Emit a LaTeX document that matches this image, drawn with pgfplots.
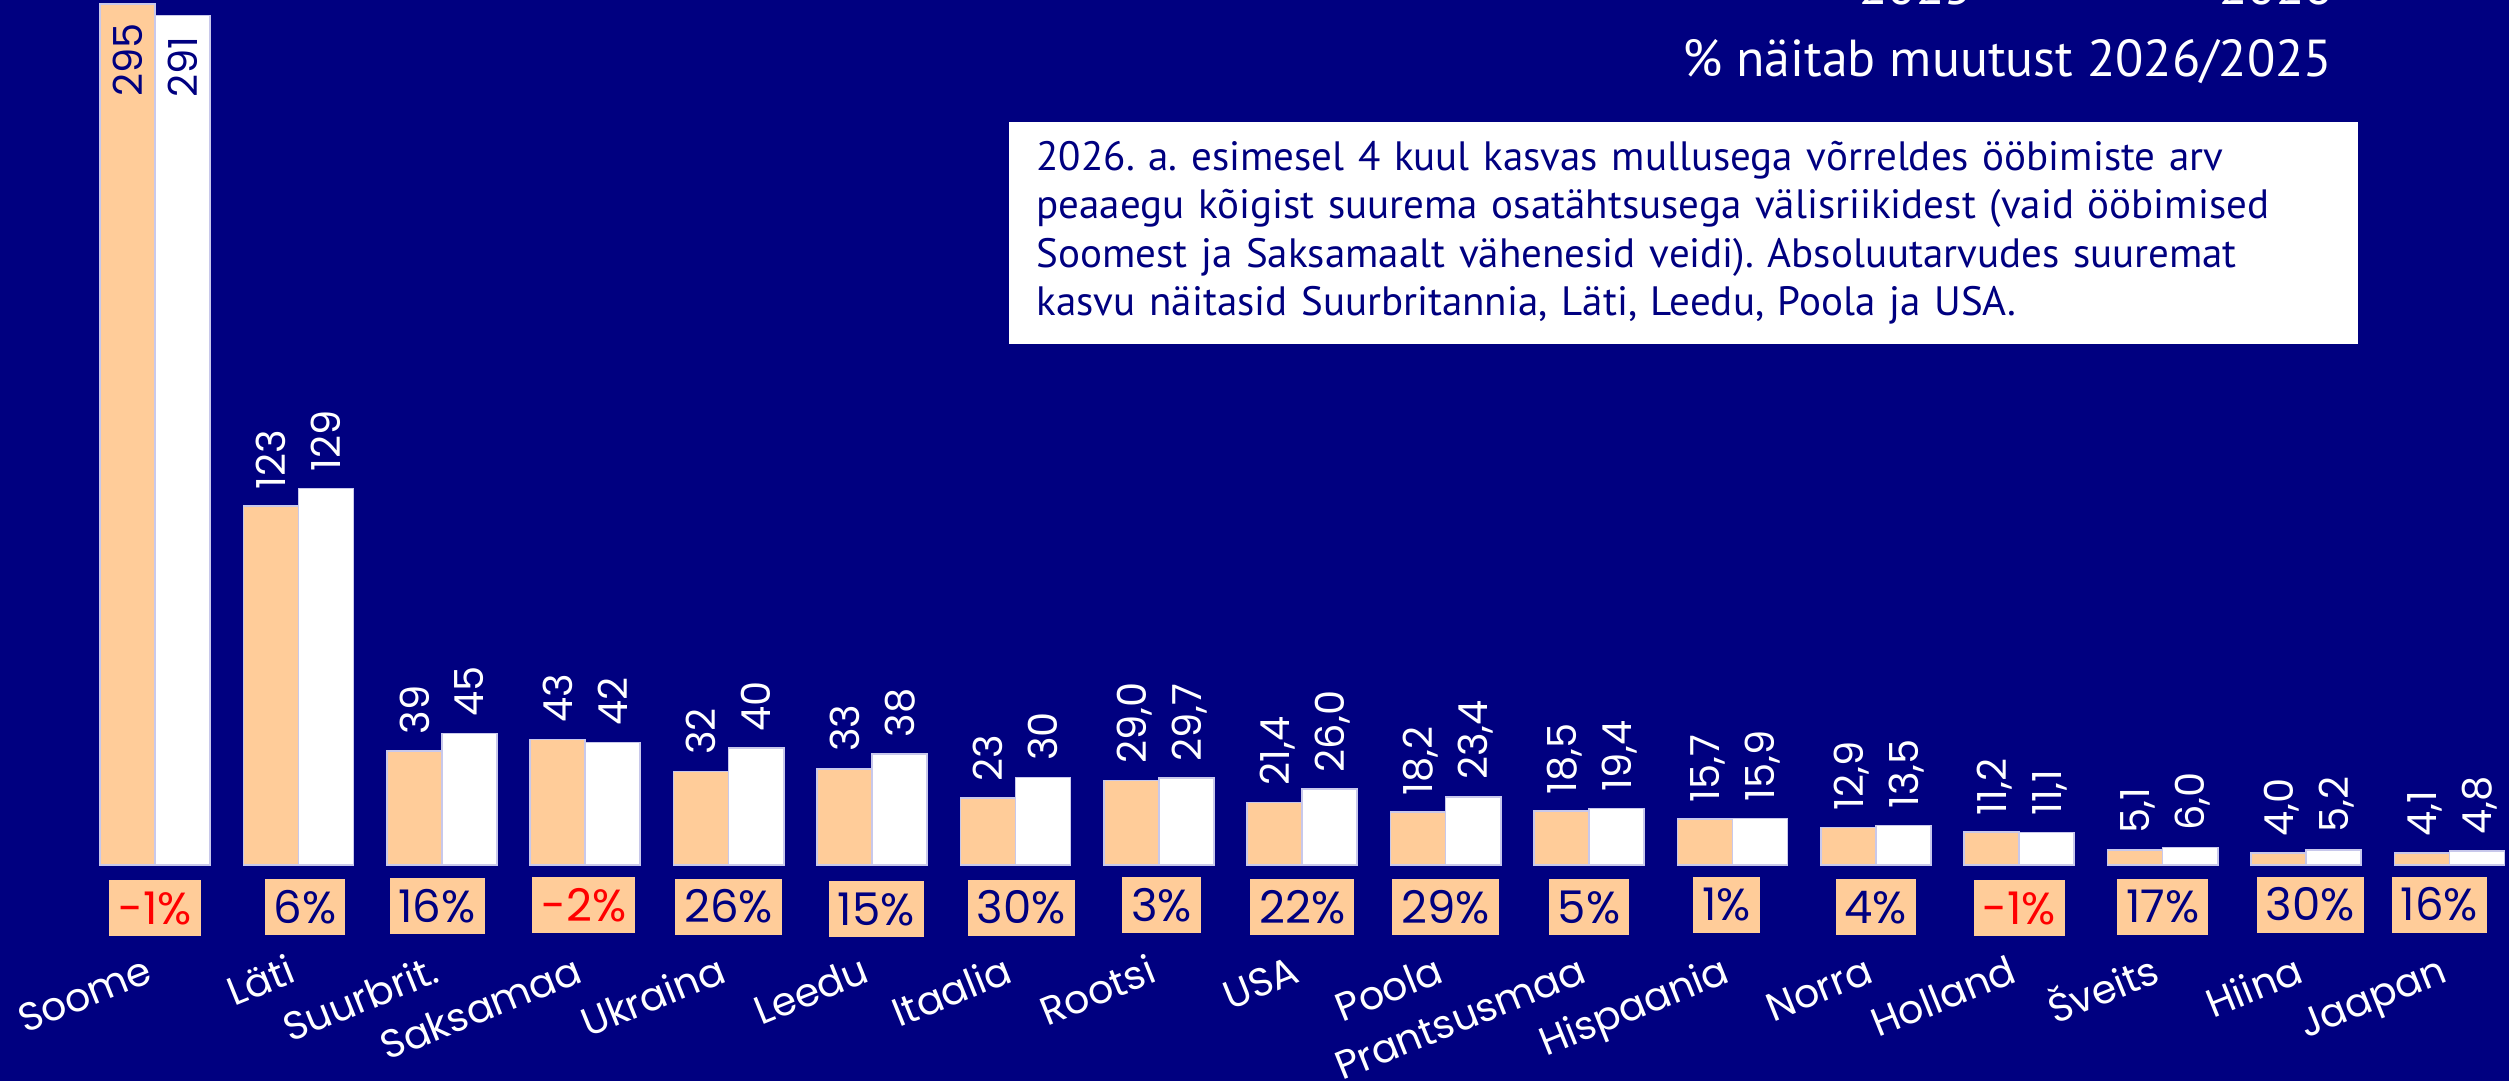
\documentclass[border=0pt]{standalone}
\usepackage{pgfplots}
\usepackage{pgfplotstable}
\usepackage{fontspec}
\pgfplotsset{compat=1.18}
\setmainfont{PT Sans}
\newfontfamily\geo{Poppins}
\definecolor{navy}{RGB}{0,0,128}
\definecolor{peach}{RGB}{255,204,153}
\definecolor{edge}{RGB}{200,200,235}
\frenchspacing

% 2025 / 2026 values and the labels shown on the bars
\pgfplotstableread{
x  a    b    la   lb
0  295  291  295  291
1  123  129  123  129
2  39   45   39   45
3  43   42   43   42
4  32   40   32   40
5  33   38   33   38
6  23   30   23   30
7  29.0 29.7 29,0 29,7
8  21.4 26.0 21,4 26,0
9  18.2 23.4 18,2 23,4
10 18.5 19.4 18,5 19,4
11 15.7 15.9 15,7 15,9
12 12.9 13.5 12,9 13,5
13 11.2 11.1 11,2 11,1
14 5.1  6.0  5,1  6,0
15 4.0  5.2  4,0  5,2
16 4.1  4.8  4,1  4,8
}\tbl

\pgfplotsset{
  valout/.style={nodes near coords, point meta=explicit symbolic,
    every node near coord/.append style={rotate=90, anchor=west, inner xsep=4.8pt, inner ysep=0pt,
      text depth=0pt, font=\geo\fontsize{12}{12}\selectfont, text=white}},
  valin/.style={nodes near coords, point meta=explicit symbolic,
    every node near coord/.append style={rotate=90, anchor=east, inner xsep=#1, inner ysep=0pt,
      text depth=0pt, font=\geo\fontsize{12}{12}\selectfont, text=navy}},
  pct/.style={draw=none, mark=none, forget plot, nodes near coords, point meta=explicit symbolic,
    every node near coord/.append style={anchor=center, fill=peach, text=#1,
      font=\geo\fontsize{13.5}{13.5}\selectfont, inner xsep=2.7pt, inner ysep=0pt,
      minimum height=16.8pt, text height=9.6pt, text depth=0pt}},
}

\begin{document}
\begin{tikzpicture}
\useasboundingbox (0,-64.8pt) rectangle (752.7pt,259.5pt);
\fill[navy] (0,-64.8pt) rectangle (752.7pt,259.5pt);
\begin{axis}[
  at={(0,0)}, anchor=south west,
  scale only axis, width=752.7pt, height=259.5pt,
  xmin=-1.0809, xmax=16.4156, ymin=0, ymax=296.33,
  clip=false, axis line style={draw=none}, tick style={draw=none},
  ytick=\empty, xtick={0,...,16},
  xticklabels={Soome,Läti,Suurbrit.,Saksamaa,Ukraina,Leedu,Itaalia,Rootsi,USA,Poola,Prantsusmaa,Hispaania,Norra,Holland,Šveits,Hiina,Jaapan},
  xticklabel style={font=\geo\fontsize{11.9}{12}\selectfont, text=white, rotate=22, anchor=base east, inner sep=0pt},
  xticklabel shift=34.8pt,
  legend columns=2,
  legend style={at={(0.7262,0.9884)}, anchor=south west, draw=none, fill=none, inner sep=0pt,
    text=white, font=\fontsize{15.6}{15.6}\selectfont, nodes={inner sep=0pt},
    /tikz/every odd column/.append style={column sep=3.6pt},
    /tikz/every even column/.append style={column sep=63pt}},
]
\addplot[ybar, bar width=0.384, bar shift=0, fill=peach, draw=edge, line width=0.5pt,
  skip coords between index={0}{1}, valout,
  legend image code/.code={\fill[peach] (0pt,0pt) rectangle (6.9pt,6.9pt);}]
  table[x expr=\thisrow{x}-0.192, y=a, meta=la]{\tbl};
\addplot[ybar, bar width=0.384, bar shift=0, fill=white, draw=edge, line width=0.5pt,
  skip coords between index={0}{1}, valout,
  legend image code/.code={\fill[white] (0pt,0pt) rectangle (6.9pt,6.9pt);}]
  table[x expr=\thisrow{x}+0.192, y=b, meta=lb]{\tbl};
% Soome: labels inside the bars
\addplot[ybar, forget plot, bar width=0.384, bar shift=0, fill=peach, draw=edge, line width=0.5pt,
  skip coords between index={1}{17}, valin=5.5pt]
  table[x expr=\thisrow{x}-0.192, y=a, meta=la]{\tbl};
\addplot[ybar, forget plot, bar width=0.384, bar shift=0, fill=white, draw=edge, line width=0.5pt,
  skip coords between index={1}{17}, valin=6pt]
  table[x expr=\thisrow{x}+0.192, y=b, meta=lb]{\tbl};
% change 2026/2025
\addplot[pct=navy]
  coordinates {(1.046,-14.39)[6\%] (1.967,-14.05)[16\%] (4.0,-14.22)[26\%] (5.03,-15.24)[15\%]
    (6.04,-14.56)[30\%] (7.02,-13.87)[3\%] (8.0,-14.39)[22\%] (9.0,-14.39)[29\%]
    (10.0,-14.39)[5\%] (10.96,-13.70)[1\%] (12.0,-14.39)[4\%] (14.0,-14.22)[17\%]
    (15.03,-13.70)[30\%] (15.93,-13.70)[16\%]};
\addplot[pct=red]
  coordinates {(0.0,-14.73)[-1\%] (2.99,-13.87)[-2\%] (13.0,-14.73)[-1\%]};
\legend{2025,2026}
\node[anchor=base east, text=white, inner sep=0pt, font=\fontsize{15.6}{15.6}\selectfont]
  at (axis cs:15.188,269.95) {\% näitab muutust 2026/2025};
\node[fill=white, text=navy, anchor=north west, inner xsep=8.4pt, inner ysep=0pt,
  text width=387.9pt, minimum width=404.7pt, minimum height=66.6pt, align=left,
  font=\fontsize{12.3}{14.55}\selectfont]
  at (axis cs:5.948,254.9) {\mbox{2026. a. esimesel 4 kuul kasvas mullusega võrreldes ööbimiste arv}\\
  \mbox{peaaegu kõigist suurema osatähtsusega välisriikidest (vaid ööbimised}\\
  \mbox{Soomest ja Saksamaalt vähenesid veidi). Absoluutarvudes suuremat}\\
  \mbox{kasvu näitasid Suurbritannia, Läti, Leedu, Poola ja USA.}};
\end{axis}
\end{tikzpicture}
\end{document}
